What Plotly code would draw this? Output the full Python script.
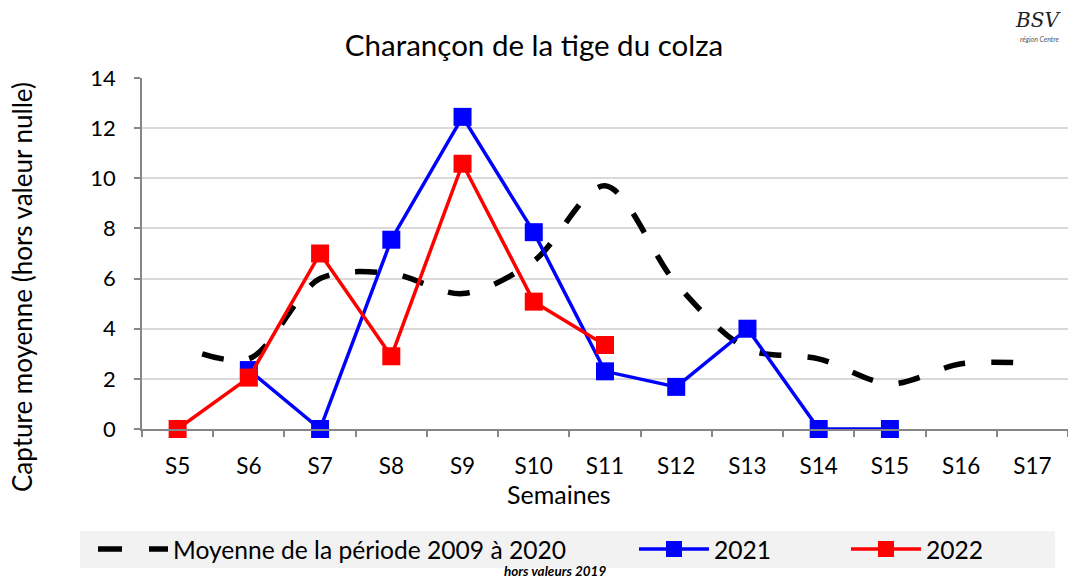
import plotly.graph_objects as go

weeks = ["S5", "S6", "S7", "S8", "S9", "S10", "S11", "S12", "S13", "S14", "S15", "S16", "S17"]
moyenne = [3.35, 2.8, 6.0, 6.2, 5.4, 6.7, 9.7, 5.8, 3.2, 2.8, 1.8, 2.6, 2.62]
y2021 = [None, 2.35, 0, 7.55, 12.45, 7.85, 2.3, 1.68, 4.0, 0, 0, None, None]
y2022 = [0, 2.05, 7.0, 2.9, 10.58, 5.08, 3.35, None, None, None, None, None, None]

name_moy = "Moyenne de la période 2009 à 2020"
name_21 = "2021"
name_22 = "2022"
title = "Charançon de la tige du colza"
ytitle = "Capture moyenne (hors valeur nulle)"
xtitle = "Semaines"
note = "hors valeurs 2019"

FONT = "Lato"

L, R, T, B = 142, 0, 78, 150
W, H = 1068, 579
pw = W - L - R
ph = H - T - B


def px_x(p):
    return (p - L) / pw


def px_y(p):
    return (H - B - p) / ph


fig = go.Figure()
# plotted average line (dash phase starts with a gap, as in the reference)
fig.add_trace(go.Scatter(
    x=weeks, y=moyenne, name=name_moy, mode="lines", showlegend=False,
    line=dict(color="black", width=5.5, dash="0px,26px,22px,0px", shape="spline", smoothing=0.9),
))
# legend entry for the average line
fig.add_trace(go.Scatter(
    x=[None], y=[None], name=name_moy, mode="lines",
    line=dict(color="black", width=5.5, dash="24px,27px"),
    legend="legend",
))
fig.add_trace(go.Scatter(
    x=weeks, y=y2021, name=name_21, mode="lines+markers", cliponaxis=False,
    line=dict(color="#0000ff", width=3.5),
    marker=dict(symbol="square", size=18, color="#0000ff"),
    legend="legend2",
))
fig.add_trace(go.Scatter(
    x=weeks, y=y2022, name=name_22, mode="lines+markers", cliponaxis=False,
    line=dict(color="#ff0000", width=3.5),
    marker=dict(symbol="square", size=18, color="#ff0000"),
    legend="legend3",
))

leg_common = dict(orientation="h", bgcolor="rgba(0,0,0,0)", yanchor="middle",
                  xanchor="left", itemwidth=70, font=dict(family=FONT, size=24.6, color="black"),
                  itemclick=False, itemdoubleclick=False, visible=True)
ly = px_y(549)
fig.update_layout(
    width=W, height=H,
    margin=dict(l=L, r=R, t=T, b=B, autoexpand=False),
    paper_bgcolor="white", plot_bgcolor="white",
    font=dict(family=FONT, color="black"),
    showlegend=True,
    title=dict(text=title, x=0.5, xref="container", xanchor="center", y=1 - 46 / H, yanchor="middle",
               font=dict(family=FONT, size=29.5, color="black")),
    legend=dict(x=px_x(93), y=ly, **leg_common),
    legend2=dict(x=px_x(634), y=ly, **leg_common),
    legend3=dict(x=px_x(846), y=ly, **leg_common),
    xaxis=dict(
        type="category", range=[-0.5, 12.5], showgrid=False,
        showline=True, linecolor="#868686", linewidth=1.5,
        ticks="outside", tickson="boundaries", ticklen=6, tickcolor="#868686", tickwidth=1.5,
        tickfont=dict(family=FONT, size=22.5, color="black"), ticklabelstandoff=16,
        zeroline=False,
    ),
    yaxis=dict(
        range=[0, 14], dtick=2, showgrid=True, gridcolor="#d9d9d9", gridwidth=1.5,
        showline=True, linecolor="#868686", linewidth=1.5,
        ticks="outside", ticklen=6, tickcolor="#868686", tickwidth=1.5,
        tickfont=dict(family=FONT, size=22, color="black"), ticklabelstandoff=14,
        zeroline=False,
    ),
    shapes=[dict(type="rect", xref="paper", yref="paper",
                 x0=px_x(80), x1=px_x(1055), y0=px_y(568), y1=px_y(531),
                 fillcolor="#f2f2f2", line=dict(width=0), layer="below")],
    annotations=[
        dict(text=ytitle, xref="paper", yref="paper", x=px_x(22), y=px_y(287),
             textangle=-90, showarrow=False, xanchor="center", yanchor="middle",
             font=dict(family=FONT, size=26, color="black")),
        dict(text=xtitle, xref="paper", yref="paper", x=px_x(559), y=px_y(494),
             showarrow=False, xanchor="center", yanchor="middle",
             font=dict(family=FONT, size=25, color="black")),
        dict(text="<b><i>" + note + "</i></b>", xref="paper", yref="paper", x=px_x(555), y=px_y(571),
             showarrow=False, xanchor="center", yanchor="middle",
             font=dict(family=FONT, size=13.5, color="black")),
        dict(text="<i>BSV</i>", xref="paper", yref="paper", x=px_x(1038), y=px_y(20),
             showarrow=False, xanchor="center", yanchor="middle",
             font=dict(family="DejaVu Serif", size=20, color="#222222")),
        dict(text="<i>région Centre</i>", xref="paper", yref="paper", x=px_x(1040), y=px_y(39),
             showarrow=False, xanchor="center", yanchor="middle",
             font=dict(family=FONT, size=7, color="#555555")),
    ],
)

fig.write_html("out.html", config={"displayModeBar": False},
               post_script="document.body.style.margin='0px';document.body.style.padding='0px';")
